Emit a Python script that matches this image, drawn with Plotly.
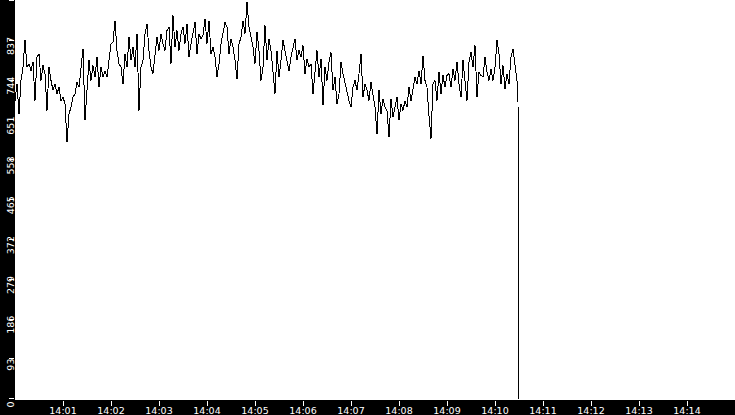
import pandas as pd
import plotly.graph_objects as go

# Values, one sample every 2.5 s starting 14:00:00
seg_1400 = [696, 735, 665, 743, 774, 838, 774, 782, 766, 786, 696, 798, 805, 743, 778,
            759, 673, 774, 743, 720, 735, 712, 727, 696, 704, 689, 599, 665, 681, 704,
            712, 739, 727, 774, 817, 650, 735, 790, 743, 778, 751, 798, 727, 774, 751]
seg_1401 = [766, 751, 798, 829, 833, 883, 813, 782, 774, 735, 805, 774, 844, 790, 821,
            774, 852, 673, 774, 790, 852, 875, 813, 774, 759, 805, 844, 813, 852, 829,
            813, 860, 868, 782, 895, 821, 860, 813, 852, 868, 829, 875, 798]
seg_1403 = [829, 852, 879, 805, 852, 840, 848, 887, 829, 883, 805, 821, 798, 751, 782,
            829, 856, 879, 868, 805, 840, 821, 790, 747, 829, 844, 883, 852, 926, 868,
            844, 821, 782, 856, 813, 743, 774, 872, 790, 840, 813, 766, 712]
seg_1405 = [813, 751, 790, 837, 813, 790, 766, 798, 821, 840, 790, 813, 798, 825, 759,
            794, 774, 782, 712, 774, 813, 751, 794, 685, 774, 743, 786, 809, 720, 751,
            689, 712, 786, 759, 735, 712, 696, 681, 727, 743, 720, 759, 805]
seg_1407 = [704, 735, 720, 696, 739, 704, 681, 618, 720, 665, 700, 681, 673, 611, 700,
            657, 681, 704, 650, 689, 673, 696, 681, 727, 696, 720, 751, 735, 766, 735,
            801, 743, 727, 661, 607, 735, 743, 696, 763, 712, 755, 727, 755]
seg_1409 = [759, 727, 770, 743, 786, 735, 704, 790, 743, 696, 786, 809, 774, 825, 704,
            763, 755, 751, 798, 763, 743, 770, 743, 774, 837, 805, 735, 778, 724, 759,
            735, 798, 817, 774, 743]
tail_times = ["2024-01-01 14:10:28.750", "2024-01-01 14:10:29.500", "2024-01-01 14:10:30.000"]
tail_values = [692, 334, 0]

y_ticks = [0, 93, 186, 279, 372, 465, 558, 651, 744, 837, 930]
x_tick_labels = ["14:01", "14:02", "14:03", "14:04", "14:05", "14:06", "14:07",
                 "14:08", "14:09", "14:10", "14:11", "14:12", "14:13", "14:14"]

values = seg_1400 + seg_1401 + seg_1403 + seg_1405 + seg_1407 + seg_1409
times = list(pd.date_range("2024-01-01 14:00:00", periods=len(values), freq="2500ms"))
times += list(pd.to_datetime(tail_times, format="ISO8601"))
values += tail_values

x_tick_vals = ["2024-01-01 " + t + ":00" for t in x_tick_labels]

fig = go.Figure(go.Scatter(x=times, y=values, mode="lines",
                           line=dict(color="black", width=1), hoverinfo="skip"))
fig.update_layout(
    width=735, height=415,
    margin=dict(l=15, r=0, t=0, b=15),
    paper_bgcolor="black", plot_bgcolor="white",
    showlegend=False,
    font=dict(family="DejaVu Sans", size=9.5, color="white"),
)
fig.update_xaxes(type="date", range=["2024-01-01 14:00:00", "2024-01-01 14:15:00"],
                 tickvals=x_tick_vals, ticktext=x_tick_labels, automargin=False,
                 ticks="outside", ticklen=5, tickcolor="white", tickwidth=1,
                 ticklabelstandoff=-3,
                 showgrid=False, zeroline=False, showline=False)
fig.update_yaxes(range=[-3, 931], tickvals=y_ticks, ticktext=[str(v) for v in y_ticks],
                 automargin=False, ticklabelstandoff=-4, ticklabelposition="outside bottom",
                 tickangle=-90, ticks="outside", ticklen=5, tickcolor="white", tickwidth=1,
                 showgrid=False, zeroline=False, showline=False)

fig.write_html("out.html", config={"displayModeBar": False})

# remove the browser's default page margin; draw the trace line without anti-aliasing
with open("out.html", encoding="utf-8") as f:
    html = f.read()
html = html.replace(
    "<body>",
    '<body style="margin:0;padding:0;background:black;overflow:hidden">'
    "<style>.scatterlayer path.js-line{shape-rendering:crispEdges}</style>",
    1,
)
with open("out.html", "w", encoding="utf-8") as f:
    f.write(html)
